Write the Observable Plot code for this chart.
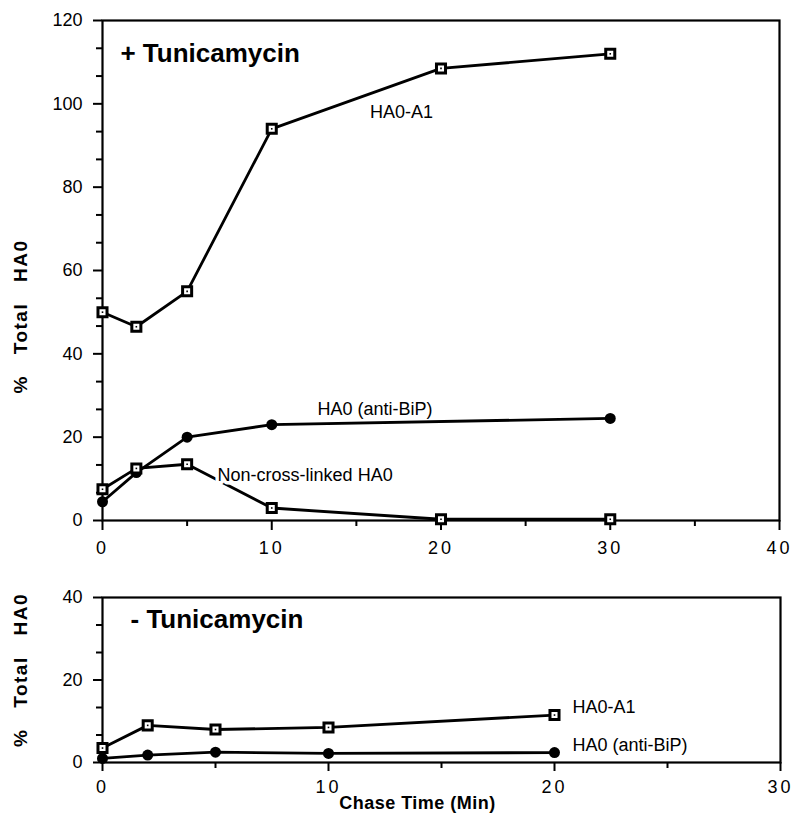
<!DOCTYPE html>
<html><head><meta charset="utf-8">
<script src="https://cdn.jsdelivr.net/npm/d3@7"></script>
<script src="https://cdn.jsdelivr.net/npm/@observablehq/plot@0.6"></script>
<style>
html,body{margin:0;padding:0;background:#fff;}
#chart svg{display:block;}
g[aria-label="x-axis tick label"] text{letter-spacing:3px;}
</style></head>
<body><div id="chart"></div>
<script>
// ---- data ----
const topTimes = [0, 2, 5, 10, 20, 30];
const topHA0A1 = [50, 46.5, 55, 94, 108.5, 112];
const topNonCross = [7.5, 12.5, 13.5, 3, 0.3, 0.3];
const topBiPTimes = [0, 2, 5, 10, 30];
const topBiP = [4.5, 11.5, 20, 23, 24.5];

const bottomTimes = [0, 2, 5, 10, 20];
const bottomHA0A1 = [3.5, 9, 8, 8.5, 11.5];
const bottomBiP = [1, 1.8, 2.5, 2.2, 2.4];

// ---- ticks ----
const xTicksTop = [0, 10, 20, 30, 40];
const xMinorTop = [5, 15, 25, 35];
const yTicksTop = [0, 20, 40, 60, 80, 100, 120];
const xTicksBottom = [0, 10, 20, 30];
const xMinorBottom = [5, 15, 25];
const yTicksBottom = [0, 20, 40];

// ---- text ----
const titleTop = "+ Tunicamycin";
const titleBottom = "- Tunicamycin";
const yLabel = "% Total HA0";
const xLabel = "Chase Time (Min)";
const labelsTop = [
  {text: "HA0-A1", x: 15.8, y: 96.7},
  {text: "HA0 (anti-BiP)", x: 12.7, y: 25.3},
  {text: "Non-cross-linked HA0", x: 6.8, y: 9.4, halo: true}
];
const labelsBottom = [
  {text: "HA0-A1", x: 20.8, y: 12.1},
  {text: "HA0 (anti-BiP)", x: 20.8, y: 2.9}
];
const titleTopPos = {x: 1.06, y: 110};
const titleBottomPos = {x: 1.24, y: 32.5};

const rows = (t, v) => t.map((d, i) => ({t: d, v: v[i]}));
const minorY = (ticks) => ticks.flatMap(v => [v + 20/3, v + 40/3]).filter(v => v < d3.max(ticks));

const FONT = "'Liberation Sans', Arial, Helvetica, sans-serif";

function squareSeries(data) {
  return [
    Plot.lineY(data, {x: "t", y: "v", stroke: "black", strokeWidth: 2.8}),
    Plot.dot(data, {x: "t", y: "v", symbol: "square", r: 5.1, fill: "white", stroke: "black", strokeWidth: 3}),
    Plot.dot(data, {x: "t", y: "v", symbol: "square", r: 0.9, fill: "black", stroke: "none"})
  ];
}
function circleSeries(data) {
  return [
    Plot.lineY(data, {x: "t", y: "v", stroke: "black", strokeWidth: 2.8}),
    Plot.dot(data, {x: "t", y: "v", symbol: "circle", r: 5.5, fill: "black", stroke: "none"})
  ];
}

const topPlot = Plot.plot({
  width: 794, height: 560,
  marginLeft: 102, marginRight: 15, marginTop: 20, marginBottom: 40,
  x: {domain: [0, 40]},
  y: {domain: [0, 120]},
  style: {fontFamily: FONT, fontSize: "18px", color: "black", background: "white"},
  marks: [
    Plot.frame({stroke: "black", strokeWidth: 2.2}),
    Plot.axisX(xTicksTop, {tickSize: 10, tickPadding: 11, fontSize: 18, strokeWidth: 2, label: null}),
    Plot.axisX(xMinorTop, {tickSize: 6, tickFormat: () => "", strokeWidth: 2, label: null}),
    Plot.axisY(yTicksTop, {tickSize: 9, tickPadding: 11, fontSize: 18, strokeWidth: 2, label: null}),
    Plot.axisY(minorY(yTicksTop), {tickSize: 6, tickFormat: () => "", strokeWidth: 2, label: null}),
    ...squareSeries(rows(topTimes, topHA0A1)),
    ...circleSeries(rows(topBiPTimes, topBiP)),
    ...squareSeries(rows(topTimes, topNonCross)),
    Plot.text(labelsTop, {x: "x", y: "y", text: "text", textAnchor: "start", lineAnchor: "bottom",
      fontSize: 18, fill: "black", stroke: d => d.halo ? "white" : "none", strokeWidth: 7}),
    Plot.text([titleTop], {x: () => titleTopPos.x, y: () => titleTopPos.y, text: d => d, textAnchor: "start",
      lineAnchor: "bottom", fontSize: 26, fontWeight: "bold", fill: "black"}),
    Plot.text([yLabel], {frameAnchor: "left", text: d => d, rotate: -90, dx: -82, dy: 46,
      textAnchor: "middle", lineAnchor: "middle",
      fontSize: 19, fontWeight: "bold", fill: "black"})
  ]
});

const bottomPlot = Plot.plot({
  width: 794, height: 272,
  marginLeft: 102, marginRight: 14, marginTop: 37, marginBottom: 70,
  x: {domain: [0, 30]},
  y: {domain: [0, 40]},
  style: {fontFamily: FONT, fontSize: "18px", color: "black", background: "white"},
  marks: [
    Plot.frame({stroke: "black", strokeWidth: 2.2}),
    Plot.axisX(xTicksBottom, {tickSize: 9, tickPadding: 9, fontSize: 18, strokeWidth: 2, label: null}),
    Plot.axisX(xMinorBottom, {tickSize: 6, tickFormat: () => "", strokeWidth: 2, label: null}),
    Plot.axisY(yTicksBottom, {tickSize: 9, tickPadding: 11, fontSize: 18, strokeWidth: 2, label: null}),
    Plot.axisY(minorY(yTicksBottom), {tickSize: 6, tickFormat: () => "", strokeWidth: 2, label: null}),
    ...squareSeries(rows(bottomTimes, bottomHA0A1)),
    ...circleSeries(rows(bottomTimes, bottomBiP)),
    Plot.text(labelsBottom, {x: "x", y: "y", text: "text", textAnchor: "start", lineAnchor: "bottom",
      fontSize: 18, fill: "black"}),
    Plot.text([titleBottom], {x: () => titleBottomPos.x, y: () => titleBottomPos.y, text: d => d, textAnchor: "start",
      lineAnchor: "bottom", fontSize: 26, fontWeight: "bold", fill: "black"}),
    Plot.text([yLabel], {frameAnchor: "left", text: d => d, rotate: -90, dx: -82, dy: -10,
      textAnchor: "middle", lineAnchor: "middle",
      fontSize: 19, fontWeight: "bold", fill: "black"}),
    Plot.text([xLabel], {frameAnchor: "bottom", text: d => d, dx: -24, dy: 46,
      textAnchor: "middle", lineAnchor: "bottom",
      fontSize: 18, fontWeight: "bold", fill: "black"})
  ]
});

const container = document.getElementById("chart");
container.appendChild(topPlot);
container.appendChild(bottomPlot);

// typographic tweaks
d3.selectAll("#chart svg text").each(function() {
  const t = this.textContent;
  if (t === yLabel) d3.select(this).attr("letter-spacing", "1.5px").attr("word-spacing", "14px");
  if (t === xLabel) d3.select(this).attr("letter-spacing", "0.5px");
});
</script>
</body></html>
